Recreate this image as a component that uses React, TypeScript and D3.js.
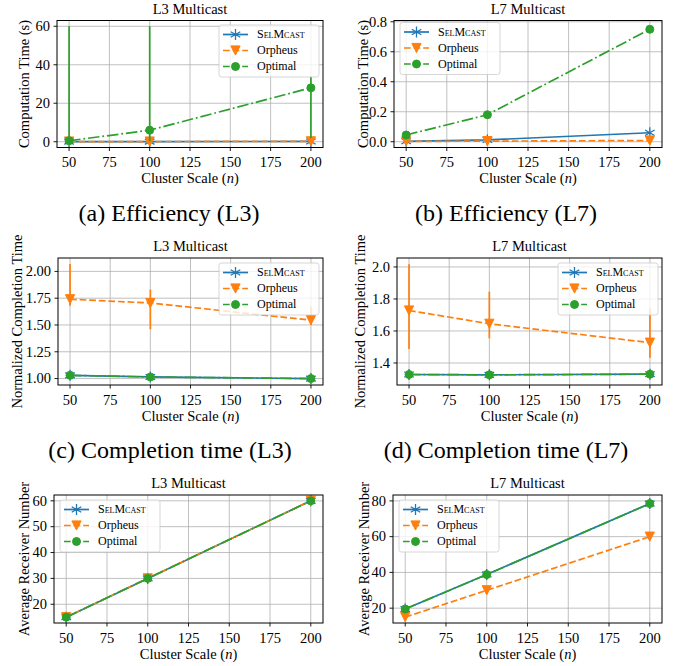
import React from 'react';
import * as d3 from 'd3';

// --- shared axis data ---
const clusterScales = [50, 100, 200];
const xTicks = [50, 75, 100, 125, 150, 175, 200];
const xDomain = [42.5, 207.5];

const seriesNames = ['SelMcast', 'Orpheus', 'Optimal'];
const seriesColors = ['#1f77b4', '#ff7f0e', '#2ca02c'];

// (a) Efficiency L3 - computation time (s)
const compL3Ticks = [0, 20, 40, 60];
const compL3Domain = [-3, 63];
const compL3SelMcast = [0.05, 0.08, 0.15];
const compL3Orpheus = [0.1, 0.1, 0.2];
const compL3Optimal = [0.5, 6, 28];
const compL3OptimalLow = [0, 0.2, 2];
const compL3OptimalHigh = [60, 60, 34];

// (b) Efficiency L7 - computation time (s)
const compL7Ticks = [0, 0.2, 0.4, 0.6, 0.8];
const compL7Domain = [-0.0385, 0.8085];
const compL7SelMcast = [0.003, 0.012, 0.06];
const compL7Orpheus = [0.002, 0.004, 0.008];
const compL7Optimal = [0.045, 0.18, 0.75];

// (c) Completion time L3 - normalized
const ctL3Ticks = [1.0, 1.25, 1.5, 1.75, 2.0];
const ctL3Domain = [0.94, 2.125];
const ctL3SelMcast = [1.03, 1.015, 1.0];
const ctL3Orpheus = [1.74, 1.705, 1.545];
const ctL3OrpheusLow = [1.68, 1.46, 1.5];
const ctL3OrpheusHigh = [2.07, 1.83, 1.67];
const ctL3Optimal = [1.03, 1.015, 1.0];

// (d) Completion time L7 - normalized
const ctL7Ticks = [1.4, 1.6, 1.8, 2.0];
const ctL7Domain = [1.2625, 2.056];
const ctL7SelMcast = [1.328, 1.326, 1.33];
const ctL7Orpheus = [1.728, 1.645, 1.527];
const ctL7OrpheusLow = [1.487, 1.554, 1.433];
const ctL7OrpheusHigh = [2.017, 1.846, 1.74];
const ctL7Optimal = [1.328, 1.326, 1.33];

// (e) Receivers L3
const rcvL3Ticks = [20, 30, 40, 50, 60];
const rcvL3Domain = [12.75, 62.25];
const rcvL3SelMcast = [15, 30, 60];
const rcvL3Orpheus = [15, 30, 60];
const rcvL3Optimal = [15, 30, 60];

// (f) Receivers L7
const rcvL7Ticks = [20, 40, 60, 80];
const rcvL7Domain = [11.7, 83.3];
const rcvL7SelMcast = [19.5, 38.8, 78.5];
const rcvL7Orpheus = [15, 30, 60];
const rcvL7Optimal = [19.5, 38.8, 78.5];

const captions = [
  { text: '(a) Efficiency (L3)', x: 169, y: 221 },
  { text: '(b) Efficiency (L7)', x: 506, y: 221 },
  { text: '(c) Completion time (L3)', x: 170, y: 458 },
  { text: '(d) Completion time (L7)', x: 506, y: 458 },
];

const FONT = "'Liberation Serif', 'Times New Roman', serif";
const dashes = ['', '6.7,2.9', '11.5,2.9,1.8,2.9'];
const markerKinds = ['star', 'tri', 'circle'];

type Series = { values: number[]; low?: number[]; high?: number[] };

function mkSeries(sel: number[], orp: number[], opt: number[], extra: { oLow?: number[]; oHigh?: number[]; pLow?: number[]; pHigh?: number[] } = {}): Series[] {
  return [
    { values: sel },
    { values: orp, low: extra.oLow, high: extra.oHigh },
    { values: opt, low: extra.pLow, high: extra.pHigh },
  ];
}

const panels = [
  { id: 'a', title: 'L3 Multicast', yLabel: 'Computation Time (s)', yTicks: compL3Ticks, fmt: d3.format('d'), yDomain: compL3Domain,
    left: 57, right: 323, top: 20.5, bottom: 147.5, yLabelGap: 33, legend: 'ur', legendDy: 4.5,
    series: mkSeries(compL3SelMcast, compL3Orpheus, compL3Optimal, { pLow: compL3OptimalLow, pHigh: compL3OptimalHigh }) },
  { id: 'b', title: 'L7 Multicast', yLabel: 'Computation Time (s)', yTicks: compL7Ticks, fmt: d3.format('.1f'), yDomain: compL7Domain,
    left: 394, right: 662, top: 20.5, bottom: 147.5, yLabelGap: 31, legend: 'ul', legendDy: 2,
    series: mkSeries(compL7SelMcast, compL7Orpheus, compL7Optimal) },
  { id: 'c', title: 'L3 Multicast', yLabel: 'Normalized Completion Time', yTicks: ctL3Ticks, fmt: d3.format('.2f'), yDomain: ctL3Domain,
    left: 58, right: 323, top: 258, bottom: 385, yLabelGap: 41, legend: 'ur', legendDy: 5,
    series: mkSeries(ctL3SelMcast, ctL3Orpheus, ctL3Optimal, { oLow: ctL3OrpheusLow, oHigh: ctL3OrpheusHigh }) },
  { id: 'd', title: 'L7 Multicast', yLabel: 'Normalized Completion Time', yTicks: ctL7Ticks, fmt: d3.format('.1f'), yDomain: ctL7Domain,
    left: 397, right: 662, top: 258, bottom: 385, yLabelGap: 37, legend: 'ur', legendDy: 5,
    series: mkSeries(ctL7SelMcast, ctL7Orpheus, ctL7Optimal, { oLow: ctL7OrpheusLow, oHigh: ctL7OrpheusHigh }) },
  { id: 'e', title: 'L3 Multicast', yLabel: 'Average Receiver Number', yTicks: rcvL3Ticks, fmt: d3.format('d'), yDomain: rcvL3Domain,
    left: 54, right: 323, top: 495, bottom: 623, yLabelGap: 30, legend: 'ul', legendDy: 5,
    series: mkSeries(rcvL3SelMcast, rcvL3Orpheus, rcvL3Optimal) },
  { id: 'f', title: 'L7 Multicast', yLabel: 'Average Receiver Number', yTicks: rcvL7Ticks, fmt: d3.format('d'), yDomain: rcvL7Domain,
    left: 393, right: 662, top: 495, bottom: 623, yLabelGap: 29, legend: 'ul', legendDy: 5,
    series: mkSeries(rcvL7SelMcast, rcvL7Orpheus, rcvL7Optimal) },
];

function Marker({ kind, x, y, color }: { kind: string; x: number; y: number; color: string }) {
  if (kind === 'circle') return <circle cx={x} cy={y} r={4} fill={color} stroke={color} strokeWidth={1} />;
  if (kind === 'tri') {
    const s = 4.6;
    return <path d={`M${x - s},${y - s}L${x + s},${y - s}L${x},${y + s}Z`} fill={color} stroke={color} strokeWidth={1} />;
  }
  const r = 5.5;
  const arms = [90, 30, 150].map(a => {
    const rad = (a * Math.PI) / 180;
    const dx = r * Math.cos(rad), dy = r * Math.sin(rad);
    return `M${x - dx},${y - dy}L${x + dx},${y + dy}`;
  }).join('');
  return <path d={arms} stroke={color} strokeWidth={1.3} fill="none" />;
}

function Panel({ p }: { p: typeof panels[number] }) {
  const x = d3.scaleLinear().domain(xDomain).range([p.left, p.right]);
  const y = d3.scaleLinear().domain(p.yDomain).range([p.bottom, p.top]);
  const line = d3.line<number>().x((_, i) => x(clusterScales[i])).y(d => y(d));
  const clipId = `clip-${p.id}`;
  const cx = (p.left + p.right) / 2;
  const cy = (p.top + p.bottom) / 2;

  const lw = 100, lh = 52;
  const lx = p.legend === 'ur' ? p.right - 4 - lw : p.left + 6;
  const ly = p.top + p.legendDy;

  return (
    <g>
      <defs>
        <clipPath id={clipId}>
          <rect x={p.left} y={p.top} width={p.right - p.left} height={p.bottom - p.top} />
        </clipPath>
      </defs>
      {/* grid */}
      <g stroke="#b0b0b0" strokeWidth={0.8}>
        {xTicks.map(t => <line key={'gx' + t} x1={x(t)} x2={x(t)} y1={p.top} y2={p.bottom} />)}
        {p.yTicks.map(t => <line key={'gy' + t} x1={p.left} x2={p.right} y1={y(t)} y2={y(t)} />)}
      </g>
      {/* series */}
      <g clipPath={`url(#${clipId})`}>
        {p.series.map((s, si) => (
          <g key={si}>
            {s.low && s.high && s.low.map((lo, i) => (
              <line key={'e' + i} x1={x(clusterScales[i])} x2={x(clusterScales[i])} y1={y(lo)} y2={y(s.high![i])}
                stroke={seriesColors[si]} strokeWidth={1.7} />
            ))}
            <path d={line(s.values) || ''} fill="none" stroke={seriesColors[si]} strokeWidth={1.7}
              strokeDasharray={dashes[si] || undefined} />
            {s.values.map((v, i) => (
              <Marker key={'m' + i} kind={markerKinds[si]} x={x(clusterScales[i])} y={y(v)} color={seriesColors[si]} />
            ))}
          </g>
        ))}
      </g>
      {/* frame */}
      <rect x={p.left} y={p.top} width={p.right - p.left} height={p.bottom - p.top} fill="none" stroke="#000" strokeWidth={1} />
      {/* ticks */}
      <g stroke="#000" strokeWidth={0.9}>
        {xTicks.map(t => <line key={'tx' + t} x1={x(t)} x2={x(t)} y1={p.bottom} y2={p.bottom + 3.5} />)}
        {p.yTicks.map(t => <line key={'ty' + t} x1={p.left - 3.5} x2={p.left} y1={y(t)} y2={y(t)} />)}
      </g>
      <g fontFamily={FONT} fontSize={14.5} fill="#000">
        {xTicks.map(t => <text key={'lx' + t} x={x(t)} y={p.bottom + 19.5} textAnchor="middle">{t}</text>)}
        {p.yTicks.map(t => <text key={'ly' + t} x={p.left - 7} y={y(t)} dy="0.33em" textAnchor="end">{p.fmt(t)}</text>)}
        <text x={cx} y={p.top - 7} textAnchor="middle">{p.title}</text>
        <text x={cx} y={p.bottom + 35.5} textAnchor="middle">Cluster Scale (<tspan fontStyle="italic">n</tspan>)</text>
        <text transform={`translate(${p.left - p.yLabelGap},${cy}) rotate(-90)`} textAnchor="middle" dominantBaseline="central">{p.yLabel}</text>
      </g>
      {/* legend */}
      <g>
        <rect x={lx} y={ly} width={lw} height={lh} rx={2.5} fill="#fff" fillOpacity={0.8} stroke="#cccccc" strokeWidth={0.8} />
        {seriesNames.map((name, i) => {
          const ry = ly + 9.5 + 16 * i;
          return (
            <g key={name}>
              <line x1={lx + 4} x2={lx + 29} y1={ry} y2={ry} stroke={seriesColors[i]} strokeWidth={1.7}
                strokeDasharray={i === 0 ? undefined : '6.7,2.9'} />
              <Marker kind={markerKinds[i]} x={lx + 16.5} y={ry} color={seriesColors[i]} />
              <text x={lx + 38} y={ry} dy="0.33em" fontFamily={FONT} fontSize={12}
                style={i === 0 ? { fontVariant: 'small-caps' } : undefined}>{name}</text>
            </g>
          );
        })}
      </g>
    </g>
  );
}

export default function App() {
  return (
    <svg width={680} height={666} style={{ position: 'absolute', left: 0, top: 0, background: '#fff' }}>
      <rect width={680} height={666} fill="#fff" />
      {panels.map(p => <Panel key={p.id} p={p} />)}
      {captions.map(c => (
        <text key={c.text} x={c.x} y={c.y} textAnchor="middle" fontFamily={FONT} fontSize={24}>{c.text}</text>
      ))}
    </svg>
  );
}
